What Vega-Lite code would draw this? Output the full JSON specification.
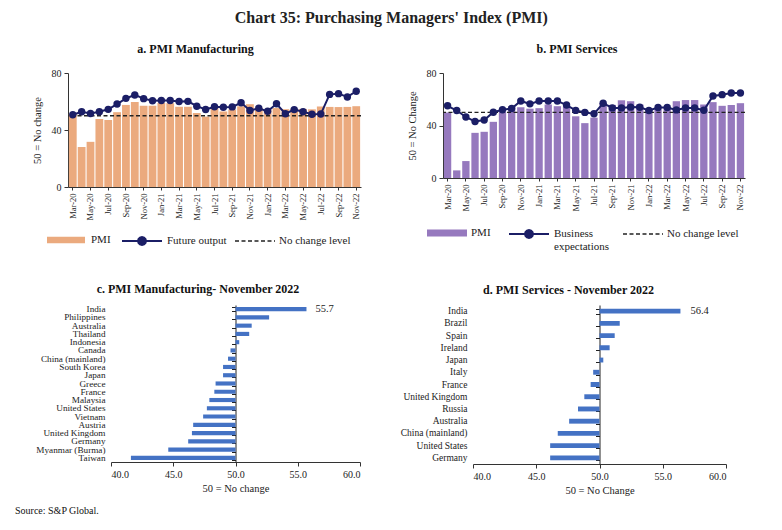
{
  "$schema": "https://vega.github.io/schema/vega-lite/v6.json",
  "padding": {"left": 15, "top": 10, "right": 5, "bottom": 5},
  "background": "white",
  "title": {"text": "Chart 35: Purchasing Managers' Index (PMI)", "font": "Liberation Serif", "fontSize": 16, "fontWeight": 600, "color": "#222", "anchor": "middle", "frame": "bounds", "offset": 17, "dx": 11},
  "config": {
    "font": "Liberation Serif",
    "view": {"stroke": null},
    "axis": {"labelFont": "Liberation Serif", "titleFont": "Liberation Serif", "labelColor": "#222", "titleColor": "#222", "domainColor": "#333", "tickColor": "#333", "grid": false, "titleFontWeight": "normal", "labelFontSize": 10, "titleFontSize": 10.5},
    "legend": {"labelFont": "Liberation Serif", "labelFontSize": 11, "labelColor": "#222", "orient": "none"},
    "title": {"font": "Liberation Serif", "fontSize": 12, "fontWeight": "bold", "color": "#111"}
  },
  "datasets": {
    "mfg": [
      {"m": "Mar-20", "pmi": 51.0, "fo": 50.7},
      {"m": "Apr-20", "pmi": 28.0, "fo": 52.8},
      {"m": "May-20", "pmi": 31.7, "fo": 51.6},
      {"m": "Jun-20", "pmi": 47.7, "fo": 52.8},
      {"m": "Jul-20", "pmi": 47.0, "fo": 54.5},
      {"m": "Aug-20", "pmi": 52.5, "fo": 58.2},
      {"m": "Sep-20", "pmi": 57.6, "fo": 62.2},
      {"m": "Oct-20", "pmi": 59.7, "fo": 64.6},
      {"m": "Nov-20", "pmi": 57.0, "fo": 62.0},
      {"m": "Dec-20", "pmi": 57.0, "fo": 60.5},
      {"m": "Jan-21", "pmi": 59.0, "fo": 60.7},
      {"m": "Feb-21", "pmi": 58.8, "fo": 60.7},
      {"m": "Mar-21", "pmi": 56.3, "fo": 60.0},
      {"m": "Apr-21", "pmi": 56.3, "fo": 60.1},
      {"m": "May-21", "pmi": 51.9, "fo": 56.7},
      {"m": "Jun-21", "pmi": 49.4, "fo": 54.4},
      {"m": "Jul-21", "pmi": 55.8, "fo": 56.3},
      {"m": "Aug-21", "pmi": 53.0, "fo": 56.0},
      {"m": "Sep-21", "pmi": 54.4, "fo": 56.2},
      {"m": "Oct-21", "pmi": 56.6, "fo": 59.1},
      {"m": "Nov-21", "pmi": 58.1, "fo": 53.7},
      {"m": "Dec-21", "pmi": 55.6, "fo": 55.3},
      {"m": "Jan-22", "pmi": 54.2, "fo": 53.1},
      {"m": "Feb-22", "pmi": 55.4, "fo": 58.4},
      {"m": "Mar-22", "pmi": 54.6, "fo": 51.4},
      {"m": "Apr-22", "pmi": 54.9, "fo": 54.3},
      {"m": "May-22", "pmi": 54.8, "fo": 52.8},
      {"m": "Jun-22", "pmi": 54.5, "fo": 51.0},
      {"m": "Jul-22", "pmi": 56.5, "fo": 51.2},
      {"m": "Aug-22", "pmi": 56.2, "fo": 65.0},
      {"m": "Sep-22", "pmi": 56.1, "fo": 65.5},
      {"m": "Oct-22", "pmi": 56.2, "fo": 63.2},
      {"m": "Nov-22", "pmi": 56.7, "fo": 67.2}
    ],
    "svc": [
      {"m": "Mar-20", "pmi": 49.9, "be": 55.0},
      {"m": "Apr-20", "pmi": 5.8, "be": 51.4},
      {"m": "May-20", "pmi": 12.9, "be": 46.5},
      {"m": "Jun-20", "pmi": 34.4, "be": 43.0},
      {"m": "Jul-20", "pmi": 35.2, "be": 44.2},
      {"m": "Aug-20", "pmi": 42.8, "be": 50.1},
      {"m": "Sep-20", "pmi": 50.3, "be": 52.0},
      {"m": "Oct-20", "pmi": 54.6, "be": 53.0},
      {"m": "Nov-20", "pmi": 53.9, "be": 58.7},
      {"m": "Dec-20", "pmi": 52.8, "be": 56.5},
      {"m": "Jan-21", "pmi": 53.2, "be": 58.7},
      {"m": "Feb-21", "pmi": 56.0, "be": 58.7},
      {"m": "Mar-21", "pmi": 54.7, "be": 58.7},
      {"m": "Apr-21", "pmi": 54.5, "be": 55.6},
      {"m": "May-21", "pmi": 47.0, "be": 51.5},
      {"m": "Jun-21", "pmi": 41.8, "be": 50.0},
      {"m": "Jul-21", "pmi": 46.0, "be": 48.9},
      {"m": "Aug-21", "pmi": 57.2, "be": 57.0},
      {"m": "Sep-21", "pmi": 55.7, "be": 53.4},
      {"m": "Oct-21", "pmi": 59.2, "be": 53.4},
      {"m": "Nov-21", "pmi": 58.5, "be": 54.0},
      {"m": "Dec-21", "pmi": 56.0, "be": 53.9},
      {"m": "Jan-22", "pmi": 52.0, "be": 51.4},
      {"m": "Feb-22", "pmi": 52.3, "be": 53.7},
      {"m": "Mar-22", "pmi": 54.0, "be": 53.7},
      {"m": "Apr-22", "pmi": 58.5, "be": 51.9},
      {"m": "May-22", "pmi": 59.4, "be": 53.4},
      {"m": "Jun-22", "pmi": 59.4, "be": 53.4},
      {"m": "Jul-22", "pmi": 56.0, "be": 51.6},
      {"m": "Aug-22", "pmi": 57.8, "be": 62.5},
      {"m": "Sep-22", "pmi": 55.0, "be": 63.5},
      {"m": "Oct-22", "pmi": 55.6, "be": 64.8},
      {"m": "Nov-22", "pmi": 57.0, "be": 64.8}
    ],
    "mfgc": [
      {"country": "India", "v": 55.7},
      {"country": "Philippines", "v": 52.7},
      {"country": "Australia", "v": 51.3},
      {"country": "Thailand", "v": 51.1},
      {"country": "Indonesia", "v": 50.3},
      {"country": "Canada", "v": 49.6},
      {"country": "China (mainland)", "v": 49.4},
      {"country": "South Korea", "v": 49.0},
      {"country": "Japan", "v": 49.0},
      {"country": "Greece", "v": 48.4},
      {"country": "France", "v": 48.3},
      {"country": "Malaysia", "v": 47.9},
      {"country": "United States", "v": 47.7},
      {"country": "Vietnam", "v": 47.4},
      {"country": "Austria", "v": 46.6},
      {"country": "United Kingdom", "v": 46.5},
      {"country": "Germany", "v": 46.2},
      {"country": "Myanmar (Burma)", "v": 44.6},
      {"country": "Taiwan", "v": 41.6}
    ],
    "svcc": [
      {"country": "India", "v": 56.4},
      {"country": "Brazil", "v": 51.6},
      {"country": "Spain", "v": 51.2},
      {"country": "Ireland", "v": 50.8},
      {"country": "Japan", "v": 50.3},
      {"country": "Italy", "v": 49.5},
      {"country": "France", "v": 49.3},
      {"country": "United Kingdom", "v": 48.8},
      {"country": "Russia", "v": 48.3},
      {"country": "Australia", "v": 47.6},
      {"country": "China (mainland)", "v": 46.7},
      {"country": "United States", "v": 46.1},
      {"country": "Germany", "v": 46.1}
    ],
    "level": [{"level": 50}]
  },
  "vconcat": [
    {
      "title": {"text": "Source: S&P Global.", "orient": "bottom", "anchor": "start", "fontSize": 10, "fontWeight": "normal", "dx": -17, "offset": 10},
      "columns": 1,
      "align": "none",
      "spacing": 31,
      "resolve": {"scale": {"fill": "independent", "stroke": "independent", "strokeDash": "independent"}, "legend": {"fill": "independent", "stroke": "independent", "strokeDash": "independent"}},
      "concat": [
        {
          "spacing": 45,
          "resolve": {"scale": {"fill": "independent", "stroke": "independent", "strokeDash": "independent"}, "legend": {"fill": "independent", "stroke": "independent", "strokeDash": "independent"}},
          "hconcat": [
            {
              "title": {"text": "a. PMI Manufacturing", "offset": 12, "dx": -19},
              "width": 293,
              "height": 114,
              "layer": [
                {
                  "data": {"name": "mfg"},
                  "mark": {"type": "bar"},
                  "encoding": {
                    "x": {"field": "m", "type": "ordinal", "sort": null, "scale": {"paddingInner": 0.12, "paddingOuter": 0.1},
                      "axis": {"title": null, "labelAngle": -90, "labelFontSize": 8.5, "labelPadding": 3, "tickSize": 3,
                        "values": ["Mar-20","May-20","Jul-20","Sep-20","Nov-20","Jan-21","Mar-21","May-21","Jul-21","Sep-21","Nov-21","Jan-22","Mar-22","May-22","Jul-22","Sep-22","Nov-22"]}},
                    "y": {"field": "pmi", "type": "quantitative", "scale": {"domain": [0, 80]},
                      "axis": {"title": "50 = No change", "values": [0, 20, 40, 60, 80], "tickSize": 4, "labelPadding": 3, "titlePadding": 9}},
                    "fill": {"datum": "PMI", "scale": {"range": ["#EBAA7E"]},
                      "legend": {"title": null, "legendX": -21, "legendY": 148, "symbolType": "M-1,-0.17L1,-0.17L1,0.17L-1,0.17Z", "symbolSize": 1444, "symbolStrokeWidth": 0, "labelOffset": 6}}
                  }
                },
                {
                  "data": {"name": "level"},
                  "mark": {"type": "rule", "strokeWidth": 1.3, "color": "#222"},
                  "encoding": {
                    "y": {"field": "level", "type": "quantitative"},
                    "strokeDash": {"datum": "No change level", "scale": {"range": [[4, 2.5]]},
                      "legend": {"title": null, "legendX": 166, "legendY": 147, "symbolType": "M-1,0L1,0", "symbolSize": 1600, "symbolStrokeColor": "#222", "symbolStrokeWidth": 1.3, "labelOffset": 3}}
                  }
                },
                {
                  "data": {"name": "mfg"},
                  "mark": {"type": "line", "strokeWidth": 2},
                  "encoding": {
                    "x": {"field": "m", "type": "ordinal", "sort": null},
                    "y": {"field": "fo", "type": "quantitative"},
                    "stroke": {"datum": "Future output", "scale": {"range": ["#1B1E66"]},
                      "legend": {"title": null, "legendX": 53, "legendY": 147, "symbolType": "M-1,0L1,0M0.2,0L0.173,0.1L0.1,0.173L0,0.2L-0.1,0.173L-0.173,0.1L-0.2,0L-0.173,-0.1L-0.1,-0.173L0,-0.2L0.1,-0.173L0.173,-0.1Z", "symbolSize": 1600, "symbolStrokeWidth": 2, "symbolFillColor": "#1B1E66", "labelOffset": 4,
                        "encode": {"symbols": {"update": {"fill": {"value": "#1B1E66"}}}}}}
                  }
                },
                {
                  "data": {"name": "mfg"},
                  "mark": {"type": "point", "filled": true, "size": 55, "color": "#1B1E66", "opacity": 1},
                  "encoding": {
                    "x": {"field": "m", "type": "ordinal", "sort": null},
                    "y": {"field": "fo", "type": "quantitative"}
                  }
                }
              ]
            },
            {
              "title": {"text": "b. PMI Services", "offset": 12, "dx": -17},
              "width": 302,
              "height": 105,
              "layer": [
                {
                  "data": {"name": "svc"},
                  "mark": {"type": "bar"},
                  "encoding": {
                    "x": {"field": "m", "type": "ordinal", "sort": null, "scale": {"paddingInner": 0.2, "paddingOuter": 0.1},
                      "axis": {"title": null, "labelAngle": -90, "labelFontSize": 8.5, "labelPadding": 3, "tickSize": 3,
                        "values": ["Mar-20","May-20","Jul-20","Sep-20","Nov-20","Jan-21","Mar-21","May-21","Jul-21","Sep-21","Nov-21","Jan-22","Mar-22","May-22","Jul-22","Sep-22","Nov-22"]}},
                    "y": {"field": "pmi", "type": "quantitative", "scale": {"domain": [0, 80]},
                      "axis": {"title": "50 = No Change", "values": [0, 20, 40, 60, 80], "tickSize": 4, "labelPadding": 3, "titlePadding": 9}},
                    "fill": {"datum": "PMI", "scale": {"range": ["#9679BE"]},
                      "legend": {"title": null, "legendX": -16, "legendY": 140, "symbolType": "M-1,-0.17L1,-0.17L1,0.17L-1,0.17Z", "symbolSize": 1600, "symbolStrokeWidth": 0, "labelOffset": 4}}
                  }
                },
                {
                  "data": {"name": "level"},
                  "mark": {"type": "rule", "strokeWidth": 1.3, "color": "#222"},
                  "encoding": {
                    "y": {"field": "level", "type": "quantitative"},
                    "strokeDash": {"datum": "No change level", "scale": {"range": [[4, 2.5]]},
                      "legend": {"title": null, "legendX": 179, "legendY": 140, "symbolType": "M-1,0L1,0", "symbolSize": 1600, "symbolStrokeColor": "#222", "symbolStrokeWidth": 1.3, "labelOffset": 3}}
                  }
                },
                {
                  "data": {"name": "svc"},
                  "mark": {"type": "line", "strokeWidth": 2},
                  "encoding": {
                    "x": {"field": "m", "type": "ordinal", "sort": null},
                    "y": {"field": "be", "type": "quantitative"},
                    "stroke": {"datum": "Business expectations", "scale": {"range": ["#1B1E66"]},
                      "legend": {"title": null, "legendX": 65, "legendY": 140, "symbolType": "M-1,0L1,0M0.2,0L0.173,0.1L0.1,0.173L0,0.2L-0.1,0.173L-0.173,0.1L-0.2,0L-0.173,-0.1L-0.1,-0.173L0,-0.2L0.1,-0.173L0.173,-0.1Z", "symbolSize": 1600, "symbolStrokeWidth": 2, "symbolFillColor": "#1B1E66", "labelOffset": 4,
                        "labelExpr": "['Business', 'expectations']", "labelBaseline": "top",
                        "encode": {"symbols": {"update": {"fill": {"value": "#1B1E66"}}}, "labels": {"update": {"dy": {"value": -6}}}}}}
                  }
                },
                {
                  "data": {"name": "svc"},
                  "mark": {"type": "point", "filled": true, "size": 55, "color": "#1B1E66", "opacity": 1},
                  "encoding": {
                    "x": {"field": "m", "type": "ordinal", "sort": null},
                    "y": {"field": "be", "type": "quantitative"}
                  }
                }
              ]
            }
          ]
        },
        {
          "spacing": 39,
          "hconcat": [
            {
              "title": {"text": "c. PMI Manufacturing- November 2022", "offset": 8, "dx": -16},
              "width": 292,
              "height": 157,
              "data": {"name": "mfgc"},
              "resolve": {"axis": {"y": "independent"}},
              "layer": [
                {
                  "mark": {"type": "bar", "color": "#4472C4"},
                  "encoding": {
                    "y": {"field": "country", "type": "nominal", "sort": null, "scale": {"paddingInner": 0.5, "paddingOuter": 0.25},
                      "axis": {"title": null, "domain": false, "ticks": false, "offset": -43, "labelPadding": 6, "labelFontSize": 9.2, "labelColor": "#222"}},
                    "x": {"field": "v", "type": "quantitative", "scale": {"domain": [40, 60], "range": [43, 292]},
                      "axis": {"title": "50 = No change", "values": [40, 45, 50, 55, 60], "format": ".1f", "tickSize": 4, "labelPadding": 3, "titlePadding": 4, "labelFontSize": 10}},
                    "x2": {"datum": 50}
                  }
                },
                {
                  "transform": [{"filter": "datum.country == 'India'"}],
                  "mark": {"type": "text", "align": "left", "dx": 9, "fontSize": 10.5, "color": "#222"},
                  "encoding": {
                    "y": {"field": "country", "type": "nominal", "sort": null,
                      "axis": {"orient": "left", "offset": -167.5, "title": null, "labels": false, "tickBand": "extent", "tickSize": 4, "domainColor": "#222", "tickColor": "#222"}},
                    "x": {"field": "v", "type": "quantitative"},
                    "text": {"field": "v", "type": "quantitative", "format": ".1f"}
                  }
                }
              ]
            },
            {
              "title": {"text": "d. PMI Services - November 2022", "offset": 8, "dx": -31},
              "width": 253,
              "height": 159,
              "data": {"name": "svcc"},
              "resolve": {"axis": {"y": "independent"}},
              "layer": [
                {
                  "mark": {"type": "bar", "color": "#4472C4"},
                  "encoding": {
                    "y": {"field": "country", "type": "nominal", "sort": null, "scale": {"paddingInner": 0.6, "paddingOuter": 0.3},
                      "axis": {"title": null, "domain": false, "ticks": false, "labelPadding": 6, "labelFontSize": 9.5, "labelColor": "#222"}},
                    "x": {"field": "v", "type": "quantitative", "scale": {"domain": [40, 60]},
                      "axis": {"title": "50 = No Change", "values": [40, 45, 50, 55, 60], "format": ".1f", "tickSize": 4, "labelPadding": 3, "titlePadding": 4, "labelFontSize": 10}},
                    "x2": {"datum": 50}
                  }
                },
                {
                  "transform": [{"filter": "datum.country == 'India'"}],
                  "mark": {"type": "text", "align": "left", "dx": 10, "fontSize": 10.5, "color": "#222"},
                  "encoding": {
                    "y": {"field": "country", "type": "nominal", "sort": null,
                      "axis": {"orient": "left", "offset": -126.5, "title": null, "labels": false, "tickBand": "extent", "tickSize": 4, "domainColor": "#222", "tickColor": "#222"}},
                    "x": {"field": "v", "type": "quantitative"},
                    "text": {"field": "v", "type": "quantitative", "format": ".1f"}
                  }
                }
              ]
            }
          ]
        }
      ]
    }
  ]
}
